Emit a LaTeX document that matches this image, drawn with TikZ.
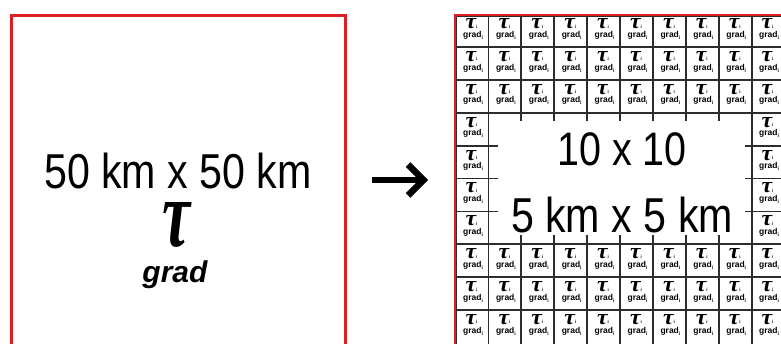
\documentclass[tikz,border=0pt]{standalone}
\usepackage{fontspec}
\setmainfont{Liberation Sans}
\newfontfamily\bigsans[FakeStretch=0.84]{Liberation Sans}
\newfontfamily\gradfont{Liberation Sans}
\newfontfamily\taufont{Liberation Serif}
\definecolor{framered}{RGB}{222,30,36}
\definecolor{gridc}{RGB}{45,45,45}
\newcommand{\celltau}{\resizebox{10.5pt}{10pt}{\taufont\bfseries\itshape τ}\raisebox{0.5pt}{\fontsize{4.5}{4.5}\selectfont\bfseries i}}
\newcommand{\cellgrad}{{\fontsize{8.5}{8.5}\selectfont\bfseries grad\raisebox{-2pt}{\fontsize{5}{5}\selectfont i}}}
\tikzset{
  redframe/.style={draw=framered, line width=3pt, inner sep=0pt, anchor=north west},
  gridline/.style={draw=gridc, line width=1.8pt},
  bigtext/.style={inner sep=0pt, anchor=base, font=\bigsans\fontsize{49}{49}\selectfont},
  taunode/.style={inner sep=0pt},
  gradnode/.style={inner sep=0pt, anchor=base},
  arrowline/.style={line width=6.5pt},
}
\begin{document}
\begin{tikzpicture}[x=1pt,y=-1pt]
\clip (0,0) rectangle (781,343);
\fill[white] (0,0) rectangle (781,343);
% left box
\node[redframe, minimum width=334pt, minimum height=334pt] (big) at (10,14) {};
\node[bigtext] (t50) at (178,188) {50 km x 50 km};
\node[taunode] (tauL) at (176.5,225) {\resizebox{28pt}{44pt}{\taufont\bfseries\itshape τ}};
\node[gradnode, font=\gradfont\bfseries\itshape\fontsize{30}{30}\selectfont] (gradL) at (175,282) {grad};
% arrow
\coordinate (as) at (372,180);
\coordinate (ae) at (423.5,180);
\coordinate (au) at (408,164.5);
\coordinate (ad) at (408,195.5);
\draw[arrowline] (as) -- (ae);
\draw[arrowline, line join=miter] (au) -- (ae) -- (ad);
% right frame
\node[redframe, line width=3.2pt, minimum width=340pt, minimum height=340pt] (grid) at (453.5,13.5) {};
% grid outer lines
\draw[gridline] (456.5,16.5) -- (790,16.5);
\draw[gridline] (456.5,16.5) -- (456.5,350);
% horizontal lines
\foreach \k in {1,2,3,7,8,9} {
  \pgfmathsetmacro\yy{14.2+32.875*\k}
  \draw[gridline] (456.5,\yy) -- (790,\yy);
}
\foreach \k in {4,5,6} {
  \pgfmathsetmacro\yy{14.2+32.875*\k}
  \pgfmathsetmacro\xa{455.5+32.9}
  \pgfmathsetmacro\xb{455.5+32.9*9}
  \draw[gridline] (456.5,\yy) -- (\xa+10,\yy);
  \draw[gridline] (\xb-7,\yy) -- (790,\yy);
}
% vertical lines
\foreach \k in {1,9,10} {
  \pgfmathsetmacro\xx{455.5+32.9*\k}
  \draw[gridline] (\xx,16.5) -- (\xx,350);
}
\foreach \k in {2,...,8} {
  \pgfmathsetmacro\xx{455.5+32.9*\k}
  \pgfmathsetmacro\ya{14.2+32.875*3}
  \pgfmathsetmacro\yb{14.2+32.875*7}
  \draw[gridline] (\xx,16.5) -- (\xx,\ya+8.5);
  \draw[gridline] (\xx,\yb-9) -- (\xx,350);
}
% cell contents
\foreach \r in {0,...,9} {
  \foreach \c in {0,...,9} {
    \pgfmathtruncatemacro\inner{and(and(\r>2,\r<7),and(\c>0,\c<9))}
    \ifnum\inner=0
      \pgfmathsetmacro\xl{455.5+32.9*\c}
      \pgfmathsetmacro\yt{14.2+32.875*\r}
      \node[taunode] (t-\r-\c) at (\xl+16,\yt+9.5) {\celltau};
      \node[gradnode] (g-\r-\c) at (\xl+17.5,\yt+23) {\cellgrad};
    \fi
  }
}
% centre texts
\node[bigtext, font=\bigsans\fontsize{47}{47}\selectfont] (ten) at (622,165) {10 x 10};
\node[bigtext] (five) at (622,232) {5 km x 5 km};
\end{tikzpicture}
\end{document}
